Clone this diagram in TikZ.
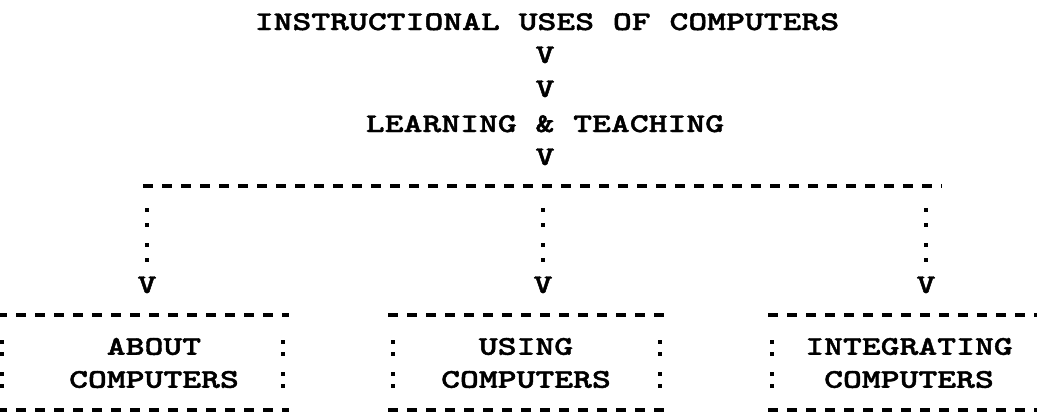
\documentclass[tikz,border=0pt]{standalone}
\usepackage{fontspec}
\usepackage{tikz}
\newfontfamily\typefont[FakeStretch=1.33,FakeBold=1.6]{lmmonolt10-bold.otf}

\begin{document}
\begin{tikzpicture}[x=1pt,y=1pt,
  typed/.style={font=\typefont\fontsize{27}{33}\selectfont, inner sep=0pt},
  dashline/.style={line width=3.5pt, dash pattern=on 10pt off 9pt},
  colonline/.style={line width=3.8pt, dash pattern=on 4pt off 11pt on 4pt off 16pt},
  sideline/.style={line width=3.8pt, dash pattern=on 4pt off 8pt on 4pt off 16pt}]
\useasboundingbox (0,0) rectangle (1037,-413);
\def\bar{-186};
\def\top{-315};
\def\bot{-410};

% headings %
\node[typed,anchor=base] (title) at (547,-30) {INSTRUCTIONAL USES OF COMPUTERS};
\node[typed,anchor=base] (v1) at (545,-63) {V};
\node[typed,anchor=base] (v2) at (545,-97) {V};
\node[typed,anchor=base] (learn) at (545,-132) {LEARNING \& TEACHING};
\node[typed,anchor=base] (v3) at (545,-165) {V};

% branch bar %
\coordinate (barL) at (143,\bar);
\coordinate (barR) at (942,\bar);
\draw[dashline] (barL) -- (barR);

% the three branches %
\coordinate (bA) at (147,\bar);
\coordinate (bU) at (543,\bar);
\coordinate (bI) at (926,\bar);
\node[typed,anchor=base] (vA) at (147,-293) {V};
\node[typed,anchor=base] (vU) at (543,-293) {V};
\node[typed,anchor=base] (vI) at (926,-293) {V};
\draw[colonline,shorten <=22pt] (bA) -- (vA.north);
\draw[colonline,shorten <=22pt] (bU) -- (vU.north);
\draw[colonline,shorten <=22pt] (bI) -- (vI.north);

% boxes %
\node[typed,align=center] (about) at (154,-363) {ABOUT\\COMPUTERS};
\node[typed,align=center] (using) at (526,-363) {USING\\COMPUTERS};
\node[typed,align=center] (integ) at (909,-363) {INTEGRATING\\COMPUTERS};

\draw[dashline] (-3,\top) -- (289,\top);
\draw[dashline] (-3,\bot) -- (289,\bot);
\draw[sideline,shorten <=25pt,shorten >=8pt] (2,\top) -- (2,\bot);
\draw[sideline,shorten <=25pt,shorten >=8pt] (283,\top) -- (283,\bot);

\draw[dashline] (388,\top) -- (665,\top);
\draw[dashline] (388,\bot) -- (665,\bot);
\draw[sideline,shorten <=25pt,shorten >=8pt] (393,\top) -- (393,\bot);
\draw[sideline,shorten <=25pt,shorten >=8pt] (660,\top) -- (660,\bot);

\draw[dashline] (768,\top) -- (1060,\top);
\draw[dashline] (768,\bot) -- (1060,\bot);
\draw[sideline,shorten <=25pt,shorten >=8pt] (772,\top) -- (772,\bot);

\end{tikzpicture}
\end{document}
